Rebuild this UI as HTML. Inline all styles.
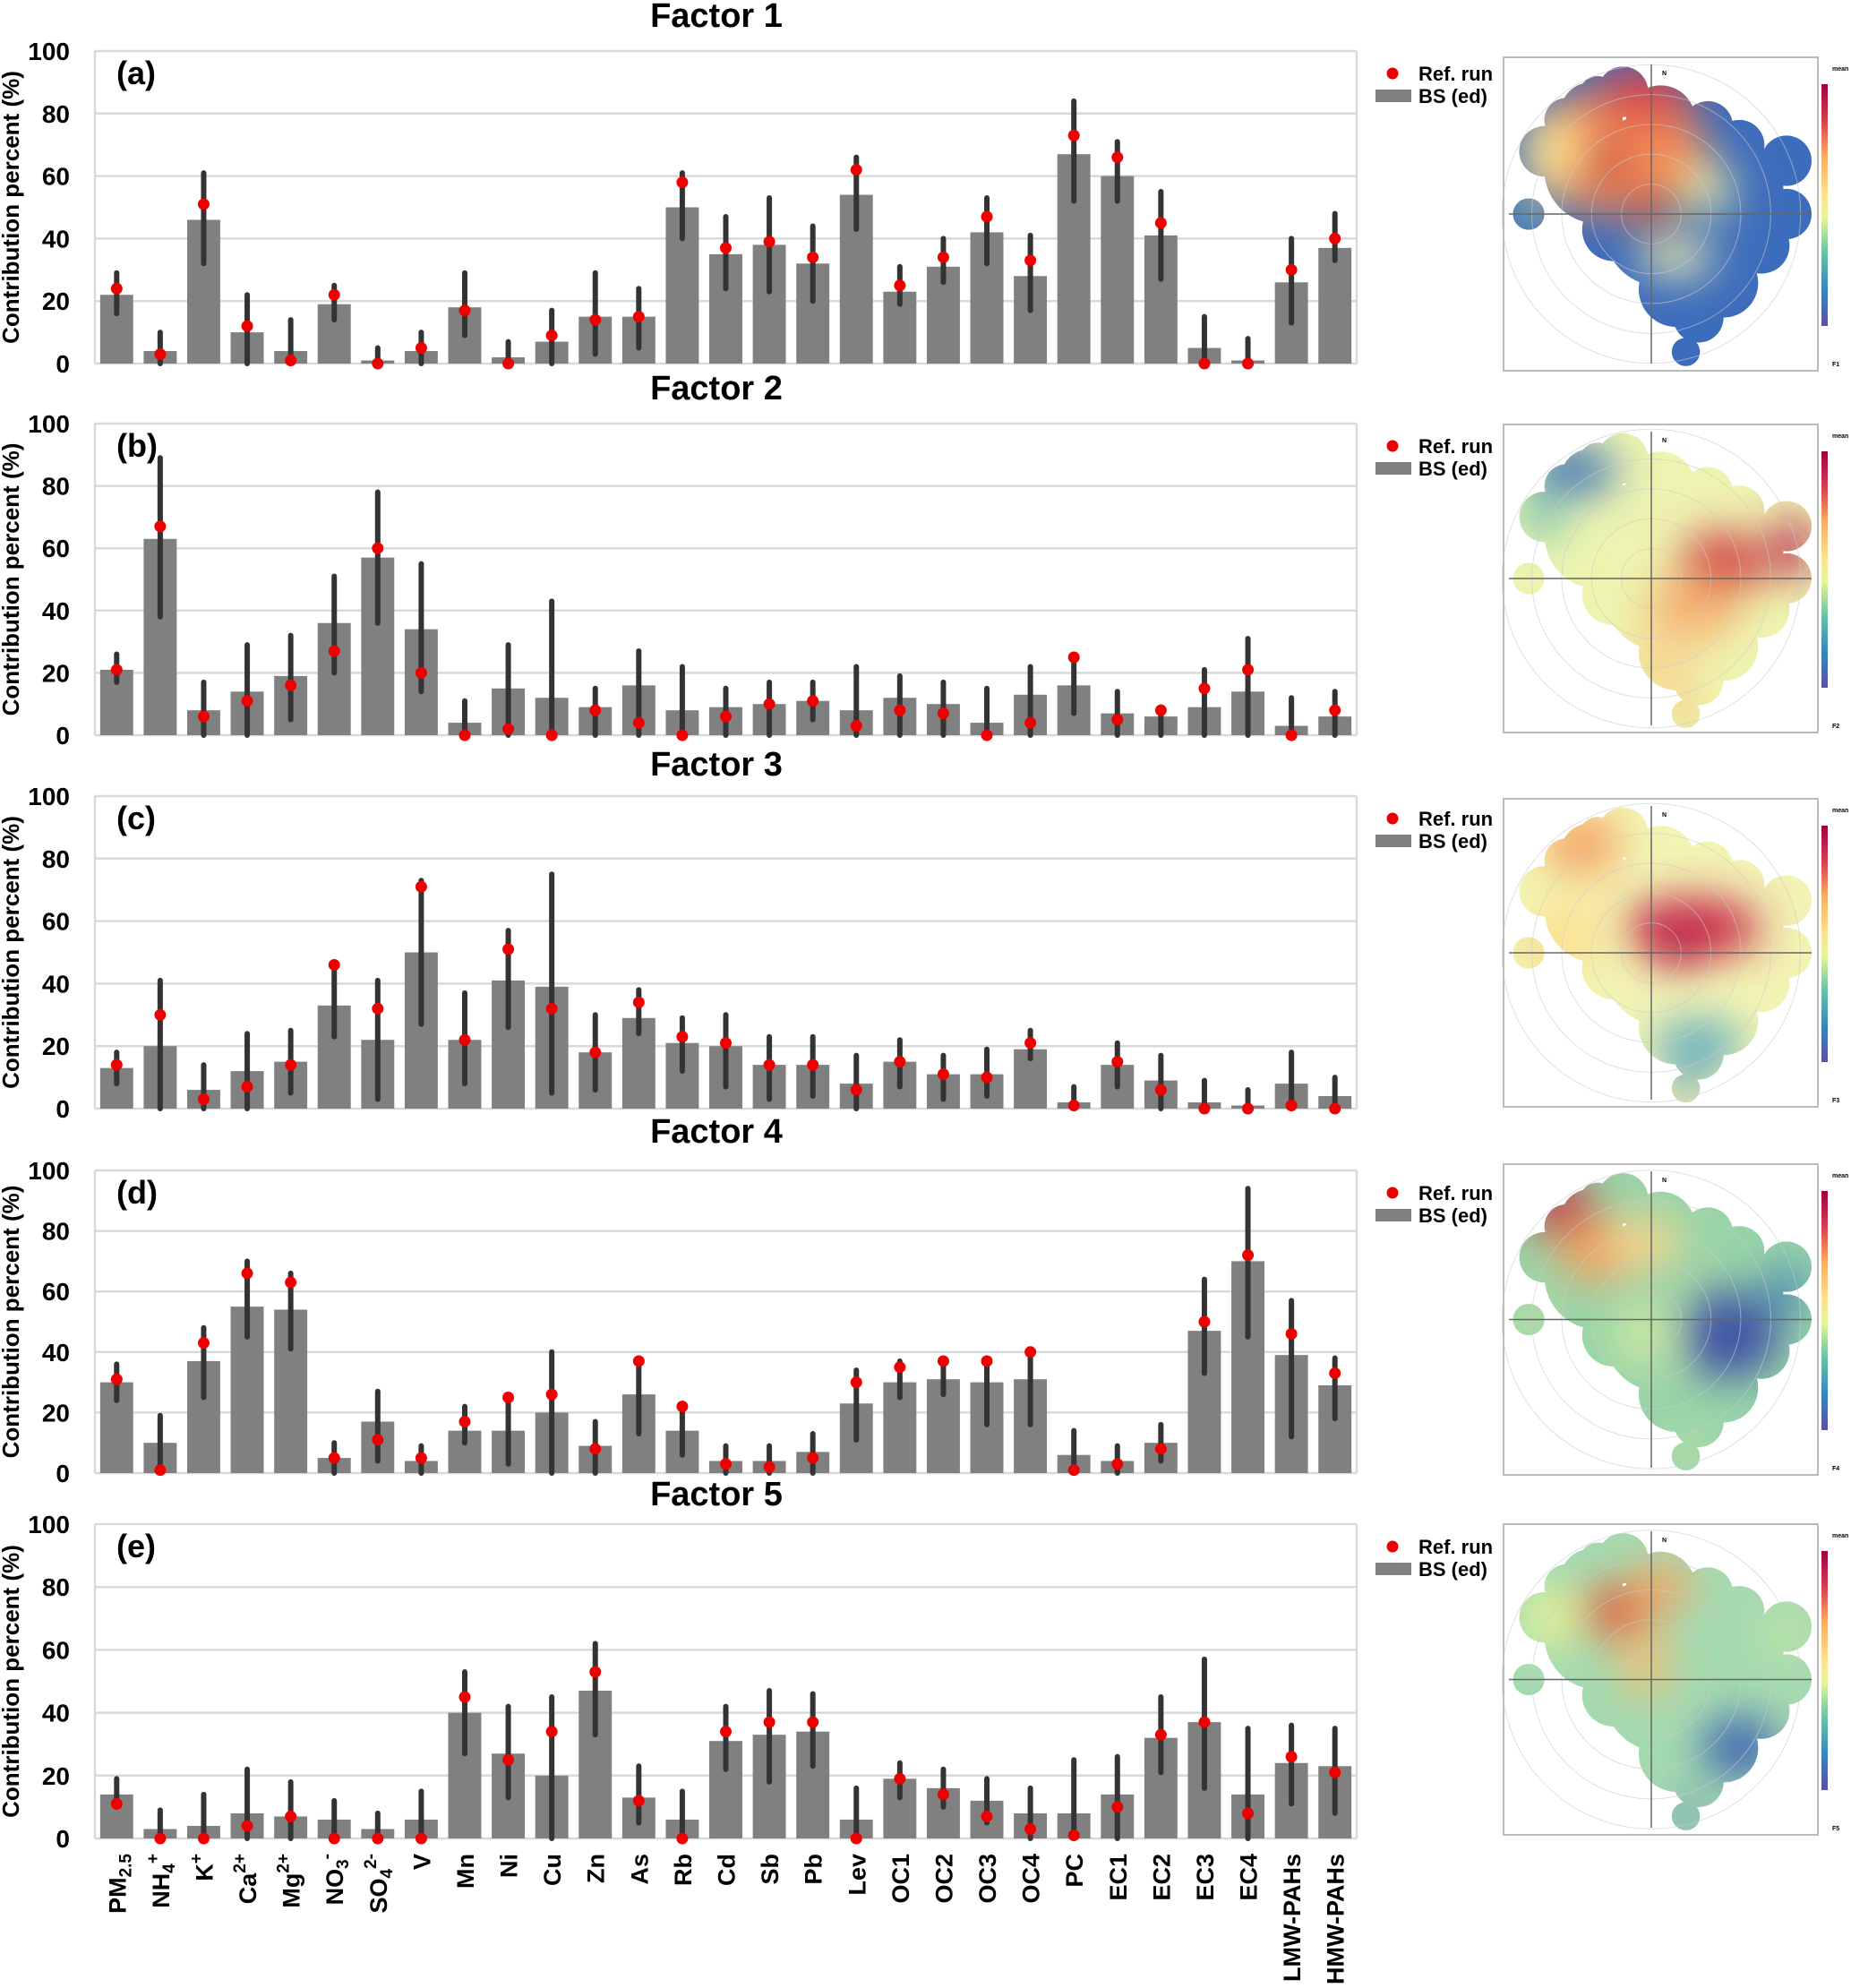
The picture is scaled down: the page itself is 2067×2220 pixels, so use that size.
<!DOCTYPE html>
<html><head><meta charset="utf-8"><style>
html,body{margin:0;padding:0;background:#fff}
svg{display:block}
text{font-family:"Liberation Sans Narrow","Liberation Sans",sans-serif;font-weight:bold}
.w{font-family:"Liberation Sans",sans-serif}
</style></head><body>
<svg id="chart" width="2067" height="2220" viewBox="0 0 2067 2220" xmlns="http://www.w3.org/2000/svg">
<defs>
<filter id="bl" filterUnits="userSpaceOnUse" x="1550" y="0" width="600" height="2220"><feGaussianBlur stdDeviation="24"/></filter>
<linearGradient id="cbar" x1="0" y1="1" x2="0" y2="0">
<stop offset="0" stop-color="#5e4fa2"/><stop offset="0.15" stop-color="#3288bd"/><stop offset="0.3" stop-color="#66c2a5"/><stop offset="0.45" stop-color="#e6f598"/><stop offset="0.55" stop-color="#fee08b"/><stop offset="0.7" stop-color="#fdae61"/><stop offset="0.85" stop-color="#d53e4f"/><stop offset="1" stop-color="#9e0142"/>
</linearGradient>
</defs>
</svg>
<script>
const categories=["PM2.5","NH4+","K+","Ca2+","Mg2+","NO3-","SO42-","V","Mn","Ni","Cu","Zn","As","Rb","Cd","Sb","Pb","Lev","OC1","OC2","OC3","OC4","PC","EC1","EC2","EC3","EC4","LMW-PAHs","HMW-PAHs"];
const bs1=[22,4,46,10,4,19,1,4,18,2,7,15,15,50,35,38,32,54,23,31,42,28,67,60,41,5,1,26,37];
const ref1=[24,3,51,12,1,22,0,5,17,0,9,14,15,58,37,39,34,62,25,34,47,33,73,66,45,0,0,30,40];
const lo1=[16,0,32,0,0,14,0,0,9,0,0,3,5,40,24,23,20,43,19,26,32,17,52,52,27,0,0,13,33];
const hi1=[29,10,61,22,14,25,5,10,29,7,17,29,24,61,47,53,44,66,31,40,53,41,84,71,55,15,8,40,48];
const bs2=[21,63,8,14,19,36,57,34,4,15,12,9,16,8,9,10,11,8,12,10,4,13,16,7,6,9,14,3,6];
const ref2=[21,67,6,11,16,27,60,20,0,2,0,8,4,0,6,10,11,3,8,7,0,4,25,5,8,15,21,0,8];
const lo2=[17,38,0,0,5,20,36,14,0,0,0,0,0,0,0,0,5,0,0,0,0,0,7,0,0,0,0,0,0];
const hi2=[26,89,17,29,32,51,78,55,11,29,43,15,27,22,15,17,17,22,19,17,15,22,25,14,9,21,31,12,14];
const bs3=[13,20,6,12,15,33,22,50,22,41,39,18,29,21,20,14,14,8,15,11,11,19,2,14,9,2,1,8,4];
const ref3=[14,30,3,7,14,46,32,71,22,51,32,18,34,23,21,14,14,6,15,11,10,21,1,15,6,0,0,1,0];
const lo3=[8,0,0,0,5,23,3,27,8,26,5,6,24,12,7,3,4,0,7,3,4,16,0,7,0,0,0,0,0];
const hi3=[18,41,14,24,25,46,41,73,37,57,75,30,38,29,30,23,23,17,22,17,19,25,7,21,17,9,6,18,10];
const bs4=[30,10,37,55,54,5,17,4,14,14,20,9,26,14,4,4,7,23,30,31,30,31,6,4,10,47,70,39,29];
const ref4=[31,1,43,66,63,5,11,5,17,25,26,8,37,22,3,2,5,30,35,37,37,40,1,3,8,50,72,46,33];
const lo4=[24,0,25,45,41,0,4,0,10,3,0,0,13,6,0,0,0,11,25,26,16,16,0,0,4,33,45,12,18];
const hi4=[36,19,48,70,66,10,27,9,22,25,40,17,37,23,9,9,13,34,37,37,37,40,14,9,16,64,94,57,38];
const bs5=[14,3,4,8,7,6,3,6,40,27,20,47,13,6,31,33,34,6,19,16,12,8,8,14,32,37,14,24,23];
const ref5=[11,0,0,4,7,0,0,0,45,25,34,53,12,0,34,37,37,0,19,14,7,3,1,10,33,37,8,26,21];
const lo5=[10,0,0,0,0,0,0,0,27,13,0,33,5,0,22,18,23,0,13,10,5,0,0,0,21,16,0,11,8];
const hi5=[19,9,14,22,18,12,8,15,53,42,45,62,23,15,42,47,46,16,24,22,19,16,25,26,45,57,35,36,35];
const yTicks=[0,20,40,60,80,100];
const factorNames=["Factor 1","Factor 2","Factor 3","Factor 4","Factor 5"];
const panelLetters=["(a)","(b)","(c)","(d)","(e)"];

const NS="http://www.w3.org/2000/svg";
const svg=document.getElementById('chart');
function mk(tag,attrs,parent,txt){const e=document.createElementNS(NS,tag);for(const k in attrs)e.setAttribute(k,attrs[k]);if(txt!==undefined)e.textContent=txt;(parent||svg).appendChild(e);return e;}

const X0=106,X1=1515;
const tops=[57,473,889,1307,1702], bots=[406,821,1238,1645,2053];
const titleY=[30,446,866,1276,1681];
const series=[[bs1,ref1,lo1,hi1],[bs2,ref2,lo2,hi2],[bs3,ref3,lo3,hi3],[bs4,ref4,lo4,hi4],[bs5,ref5,lo5,hi5]];
const step=(X1-X0)/categories.length;
function xc(i){return X0+step*(i+0.5);}

for(let p=0;p<5;p++){
  const top=tops[p],bot=bots[p];
  const y=v=>bot-(bot-top)*v/100;
  const g=mk('g',{});
  
  
  const t=mk('text',{x:800,y:titleY[p],'font-size':38,'text-anchor':'middle',class:'w'},g,factorNames[p]);
  
  
  yTicks.forEach(v=>{
    const gl=mk('line',{x1:X0,x2:X1,y1:y(v),y2:y(v),stroke:'#d9d9d9','stroke-width':2.5},g);
    
    
    const tl=mk('text',{x:78,y:y(v)+10,'font-size':28,'text-anchor':'end'},g,String(v));
    
    
  });
  mk('line',{x1:X0,x2:X0,y1:top,y2:bot,stroke:'#d9d9d9','stroke-width':2.5},g);
  mk('line',{x1:X1,x2:X1,y1:top,y2:bot,stroke:'#d9d9d9','stroke-width':2.5},g);
  const yl=mk('text',{transform:`translate(21,${(top+bot)/2}) rotate(-90)`,'font-size':26,'text-anchor':'middle',class:'w'},g,'Contribution percent (%)');
  
  
  const pl=mk('text',{x:130,y:top+37,'font-size':36},g,panelLetters[p]);
  
  
  const [bs,ref,lo,hi]=series[p];
  categories.forEach((c,i)=>{
    const bw=step*0.76;
    const r=mk('rect',{x:xc(i)-bw/2,y:y(bs[i]),width:bw,height:y(0)-y(bs[i]),fill:'#808080'},g);
    
    
    const e=mk('line',{x1:xc(i),x2:xc(i),y1:y(lo[i]),y2:y(hi[i]),stroke:'#333','stroke-width':6,'stroke-linecap':'round'},g);
    
    
    const d=mk('circle',{cx:xc(i),cy:y(ref[i]),r:6.5,fill:'#ee0000'},g);
    
    
  });
  const lg=mk('g',{},g);
  
  
  mk('circle',{cx:1555,cy:top+25,r:6.5,fill:'#ee0000'},lg);
  mk('text',{x:1584,y:top+33,'font-size':22,class:'w'},lg,'Ref. run');
  mk('rect',{x:1536,y:top+43,width:40,height:14,fill:'#808080'},lg);
  mk('text',{x:1584,y:top+58,'font-size':22,class:'w'},lg,'BS (ed)');
}

const labelParts={"PM2.5":[["PM",""],["2.5","sub"]],"NH4+":[["NH",""],["4","sub"],["+","sup"]],"K+":[["K",""],["+","sup"]],"Ca2+":[["Ca",""],["2+","sup"]],"Mg2+":[["Mg",""],["2+","sup"]],"NO3-":[["NO",""],["3","sub"],["-","sup"]],"SO42-":[["SO",""],["4","sub"],["2-","sup"]]};
categories.forEach((c,i)=>{
  const t=mk('text',{transform:`translate(${xc(i)+10},2070) rotate(-90)`,'font-size':27,'text-anchor':'end',class:'w'});
  
  
  const parts=labelParts[c]||[[c,""]];
  let acc=0;
  parts.forEach(([s,k])=>{
    const d=k==='sub'?6:(k==='sup'?-12:0);
    const a=k?{'font-size':19,dy:d-acc}:{dy:d-acc};
    mk('tspan',a,t,s);acc=d;
  });
});

const blobCircles=[[0.28,0.18,0.1],[0.38,0.11,0.08],[0.5,0.2,0.11],[0.3,0.36,0.17],[0.45,0.4,0.21],[0.6,0.36,0.14],[0.75,0.42,0.14],[0.9,0.33,0.08],[0.9,0.5,0.08],[0.62,0.6,0.17],[0.55,0.74,0.12],[0.7,0.72,0.11],[0.08,0.5,0.05],[0.58,0.94,0.045],[0.13,0.3,0.08],[0.82,0.6,0.09],[0.5,0.55,0.18],[0.35,0.55,0.1],[0.75,0.28,0.08],[0.65,0.22,0.08],[0.2,0.2,0.07],[0.62,0.83,0.08],[0.3,0.12,0.06]];
const polarStyles=[
 {base:'#3c6cbc',spots:[[0.35,0.3,0.3,0.2,'#f58c55'],[0.45,0.12,0.15,0.1,'#d94850'],[0.15,0.3,0.1,0.12,'#fee08b'],[0.32,0.34,0.07,0.06,'#a80a45'],[0.48,0.5,0.05,0.08,'#b01040'],[0.55,0.64,0.12,0.06,'#f5f5b0'],[0.65,0.42,0.08,0.08,'#f0f0a0'],[0.08,0.5,0.05,0.05,'#9fd8a0']]},
 {base:'#eef4b0',spots:[[0.22,0.15,0.14,0.08,'#3b70b8'],[0.12,0.3,0.08,0.08,'#80c8b0'],[0.7,0.45,0.14,0.1,'#d03a45'],[0.92,0.4,0.06,0.1,'#b0104a'],[0.6,0.6,0.15,0.1,'#f7b070'],[0.5,0.8,0.1,0.1,'#f8d490'],[0.58,0.94,0.05,0.04,'#f8b060']]},
 {base:'#f2f4b4',spots:[[0.25,0.15,0.12,0.1,'#f6a060'],[0.6,0.42,0.22,0.1,'#c82848'],[0.55,0.5,0.06,0.06,'#a8103f'],[0.2,0.45,0.1,0.12,'#fde090'],[0.62,0.8,0.14,0.08,'#5aa8c0'],[0.58,0.94,0.05,0.04,'#3a70b8'],[0.08,0.5,0.05,0.05,'#fcd090']]},
 {base:'#98d4a8',spots:[[0.18,0.14,0.12,0.08,'#c02048'],[0.3,0.28,0.14,0.1,'#f3a060'],[0.45,0.25,0.12,0.08,'#fdd88a'],[0.72,0.55,0.16,0.14,'#4052a6'],[0.9,0.4,0.06,0.08,'#3a7ab8'],[0.45,0.55,0.1,0.1,'#d0eca0'],[0.08,0.5,0.05,0.05,'#f0f0a8'],[0.58,0.94,0.05,0.04,'#eaf2a8']]},
 {base:'#a4dab0',spots:[[0.35,0.28,0.12,0.08,'#e85a38'],[0.3,0.3,0.05,0.05,'#c0203a'],[0.5,0.2,0.1,0.08,'#f5a865'],[0.45,0.45,0.08,0.1,'#f7c070'],[0.15,0.3,0.1,0.1,'#e6f59a'],[0.75,0.72,0.12,0.1,'#3c62b2'],[0.9,0.35,0.06,0.08,'#c8e8a0'],[0.58,0.94,0.05,0.04,'#3a60b0']]}
];
const pboxTop=[64,474,892,1300,1702],pboxBot=[414,818,1236,1647,2049];
for(let p=0;p<5;p++){
  const bx=1679,bw=351,by=pboxTop[p],bh=pboxBot[p]-pboxTop[p];
  const g=mk('g',{});
  
  
  mk('rect',{x:bx,y:by,width:bw,height:bh,fill:'#fff',stroke:'#bbb','stroke-width':2},g);
  const cp=mk('clipPath',{id:'cp'+p},g);
  blobCircles.forEach(([u,v,r])=>mk('circle',{cx:bx+u*bw,cy:by+v*bh,r:r*bw},cp));
  const inner=mk('g',{'clip-path':`url(#cp${p})`},g);
  const st=polarStyles[p];
  mk('rect',{x:bx,y:by,width:bw,height:bh,fill:st.base},inner);
  const sg=mk('g',{filter:'url(#bl)'},inner);
  st.spots.forEach(([u,v,rx,ry,col])=>mk('ellipse',{cx:bx+u*bw,cy:by+v*bh,rx:rx*bw,ry:ry*bh,fill:col},sg));
  const cx=bx+0.47*bw,cy=by+0.5*bh;
  [0.1,0.2,0.3,0.4,0.5].forEach(r=>mk('circle',{cx:cx,cy:cy,r:r*bw*0.95,fill:'none',stroke:'#ccc','stroke-width':1,opacity:0.6},g));
  mk('line',{x1:bx+6,x2:bx+bw*0.98,y1:cy,y2:cy,stroke:'#666','stroke-width':1.5},g);
  mk('line',{x1:cx,x2:cx,y1:by+8,y2:by+bh-8,stroke:'#666','stroke-width':1.5},g);
  mk('text',{x:cx+12,y:by+20,'font-size':7,class:'w'},g,'N');
  mk('rect',{x:2034,y:by+30,width:7,height:bh-80,fill:'url(#cbar)'},g);
  mk('text',{x:2046,y:by+15,'font-size':7,class:'w'},g,'mean');
  mk('text',{x:2046,y:by+bh-5,'font-size':7,class:'w'},g,'F'+(p+1));
}
</script>
</body></html>
